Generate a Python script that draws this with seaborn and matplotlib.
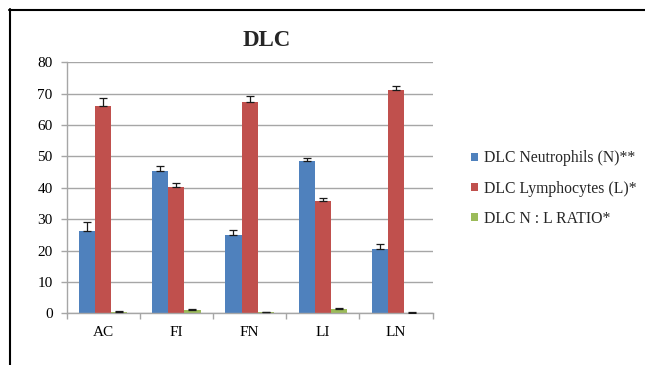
import matplotlib
matplotlib.use("Agg")
import matplotlib.pyplot as plt
from matplotlib.lines import Line2D
import seaborn as sns
import pandas as pd
import numpy as np

groups = ["AC", "FI", "FN", "LI", "LN"]
series = ["DLC Neutrophils (N)**", "DLC Lymphocytes (L)*", "DLC N : L RATIO*"]
neutrophils = [26.3, 45.3, 24.9, 48.5, 20.5]
lymphocytes = [66.0, 40.1, 67.2, 35.8, 71.1]
nl_ratio = [0.4, 1.2, 0.3, 1.4, 0.2]
neutrophils_err = [2.7, 1.7, 1.8, 0.9, 1.5]
lymphocytes_err = [2.5, 1.3, 2.2, 1.1, 1.4]
nl_ratio_err = [0.2, 0.2, 0.1, 0.2, 0.1]
colors = ["#4F81BD", "#C0504D", "#9BBB59"]

values = [neutrophils, lymphocytes, nl_ratio]
errors = [neutrophils_err, lymphocytes_err, nl_ratio_err]

df = pd.DataFrame({
    "group": np.tile(groups, len(series)),
    "series": np.repeat(series, len(groups)),
    "value": np.concatenate(values),
})

sns.set_theme(style="white")
plt.rcParams["font.family"] = ["Liberation Serif", "DejaVu Serif"]

W, H = 645, 365
fig = plt.figure(figsize=(W / 100, H / 100), dpi=100)
ax = fig.add_axes([66.5 / W, 1 - 313.3 / H, (432.7 - 66.5) / W, (313.3 - 62.3) / H])

sns.barplot(data=df, x="group", y="value", hue="series", palette=colors,
            width=0.66, gap=0, errorbar=None, saturation=1, ax=ax,
            edgecolor="none", zorder=2)

# plus-direction error bars on top of each bar
for container, errs in zip(ax.containers, errors):
    for bar, e in zip(container, errs):
        xc = bar.get_x() + bar.get_width() / 2
        h = bar.get_height()
        ax.errorbar(xc, h, yerr=[[0], [e]], fmt="none", ecolor="#1a1a1a",
                    elinewidth=0.9, capsize=2.6, capthick=0.9, zorder=3)

ax.set_ylim(0, 80)
ax.set_xlim(-0.5, 4.5)
ax.set_yticks(range(0, 81, 10))
ax.yaxis.grid(True, color="#A6A6A6", linewidth=1.0, zorder=0)
ax.set_axisbelow(True)
ax.set_xlabel("")
ax.set_ylabel("")

for s in ["top", "right"]:
    ax.spines[s].set_visible(False)
for s in ["left", "bottom"]:
    ax.spines[s].set_color("#A6A6A6")
    ax.spines[s].set_linewidth(1.0)

ax.tick_params(axis="y", labelsize=11, length=4, color="#A6A6A6", width=1.0,
               left=True, pad=6, labelcolor="black")
ax.tick_params(axis="x", which="major", labelsize=11, length=0, pad=9.5,
               labelcolor="black")
ax.set_xticks(np.arange(-0.5, 5.0, 1.0), minor=True)
ax.tick_params(axis="x", which="minor", length=4, color="#A6A6A6", width=1.0,
               bottom=True)

fig.text(266.7 / W, 1 - 41 / H, "DLC", fontsize=16.5, fontweight="bold",
         ha="center", va="center")

handles, labels = ax.get_legend_handles_labels()
ax.legend(handles, labels, loc="center left", bbox_to_anchor=(471 / W, 1 - 188.5 / H),
          bbox_transform=fig.transFigure, frameon=False, fontsize=11.3,
          handlelength=0.45, handleheight=0.45, handletextpad=0.35,
          labelspacing=0.9, borderaxespad=0, borderpad=0)

# frame lines around the chart area
fig.add_artist(Line2D([10 / W, 10 / W], [0, 1 - 9.3 / H],
                      transform=fig.transFigure, color="black", linewidth=1.5))
fig.add_artist(Line2D([9.3 / W, 1], [1 - 10.3 / H, 1 - 10.3 / H],
                      transform=fig.transFigure, color="black", linewidth=1.5))

fig.savefig("out.png", dpi=100)
